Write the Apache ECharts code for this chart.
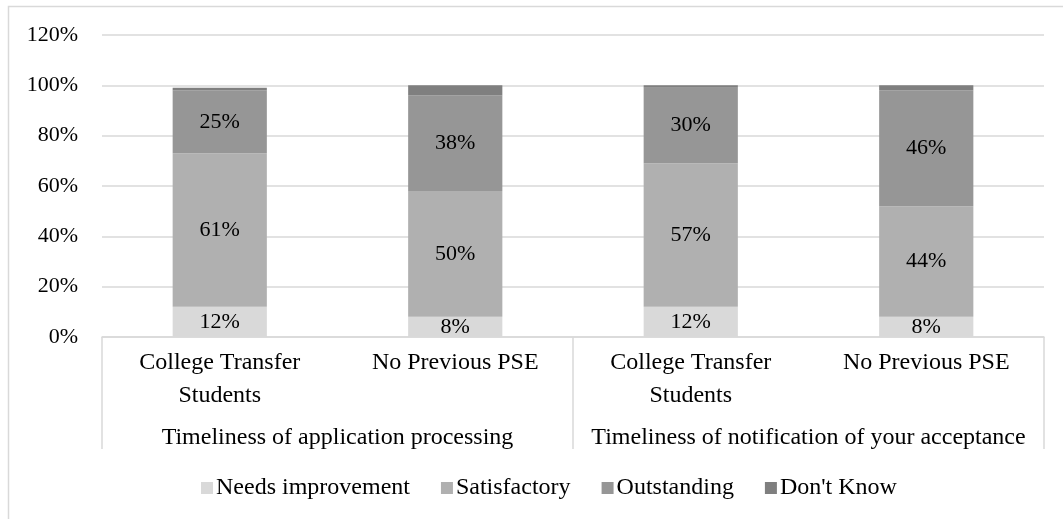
<!DOCTYPE html>
<html>
<head>
<meta charset="utf-8">
<style>
  html, body { margin: 0; padding: 0; background: #fff; }
  #chart { width: 1063px; height: 519px; }
</style>
<script src="https://cdn.jsdelivr.net/npm/echarts@6/dist/echarts.min.js"></script>
</head>
<body>
<div id="chart"></div>
<script>
// 数据
const groups = ['Timeliness of application processing', 'Timeliness of notification of your acceptance']
const categories = ['College Transfer\nStudents', 'No Previous PSE', 'College Transfer\nStudents', 'No Previous PSE']
const needsImprovement = [12, 8, 12, 8]
const satisfactory = [61, 50, 57, 44]
const outstanding = [25, 38, 30, 46]
const dontKnow = [1, 4, 1, 2]
const seriesNames = ['Needs improvement', 'Satisfactory', 'Outstanding', "Don't Know"]
const colors = ['#d9d9d9', '#b0b0b0', '#969696', '#7f7f7f']

const font = 'Liberation Serif, Times New Roman, serif'
const myChart = echarts.init(document.getElementById('chart'))

const makeSeries = (name, data, index, withLabel) => ({
  name: name,
  type: 'bar',
  stack: 'total',
  xAxisIndex: 0,
  barWidth: '40%',
  data: data,
  itemStyle: { color: colors[index] },
  label: {
    show: withLabel,
    position: 'inside',
    color: '#000',
    fontSize: 22,
    fontFamily: font,
    formatter: '{c}%'
  }
})

const option = {
  animation: false,
  color: colors,
  graphic: [
    {
      type: 'rect',
      shape: { x: 8.5, y: 6.5, width: 1200, height: 700 },
      style: { fill: 'none', stroke: '#d9d9d9', lineWidth: 1.5 },
      silent: true
    }
  ],
  grid: { left: 102, right: 19, top: 35, bottom: 182 },
  legend: {
    data: seriesNames,
    top: 471,
    left: 196,
    icon: 'rect',
    itemWidth: 12,
    itemHeight: 12,
    itemGap: 31,
    textStyle: { color: '#000', fontSize: 24, fontFamily: font, padding: [0, 0, 0, -2] }
  },
  xAxis: [
    {
      type: 'category',
      position: 'bottom',
      data: categories,
      axisLine: { lineStyle: { color: '#d9d9d9', width: 1.5 } },
      axisTick: { show: false },
      axisLabel: {
        interval: 0,
        color: '#000',
        fontSize: 24,
        fontFamily: font,
        lineHeight: 33,
        margin: 9
      }
    },
    {
      type: 'category',
      position: 'bottom',
      data: groups,
      axisLine: { show: false },
      axisTick: { show: true, length: 112, interval: 0, lineStyle: { color: '#d9d9d9', width: 1.5 } },
      axisLabel: {
        interval: 0,
        color: '#000',
        fontSize: 24,
        fontFamily: font,
        lineHeight: 26,
        margin: 88
      }
    }
  ],
  yAxis: {
    type: 'value',
    min: 0,
    max: 120,
    interval: 20,
    axisLine: { show: false },
    axisTick: { show: false },
    axisLabel: { formatter: '{value}%', color: '#000', fontSize: 22, fontFamily: font, margin: 24 },
    splitLine: { lineStyle: { color: '#d9d9d9', width: 1.5 } }
  },
  series: [
    makeSeries(seriesNames[0], needsImprovement, 0, true),
    makeSeries(seriesNames[1], satisfactory, 1, true),
    makeSeries(seriesNames[2], outstanding, 2, true),
    makeSeries(seriesNames[3], dontKnow, 3, false)
  ]
}
option && myChart.setOption(option)
</script>
</body>
</html>
